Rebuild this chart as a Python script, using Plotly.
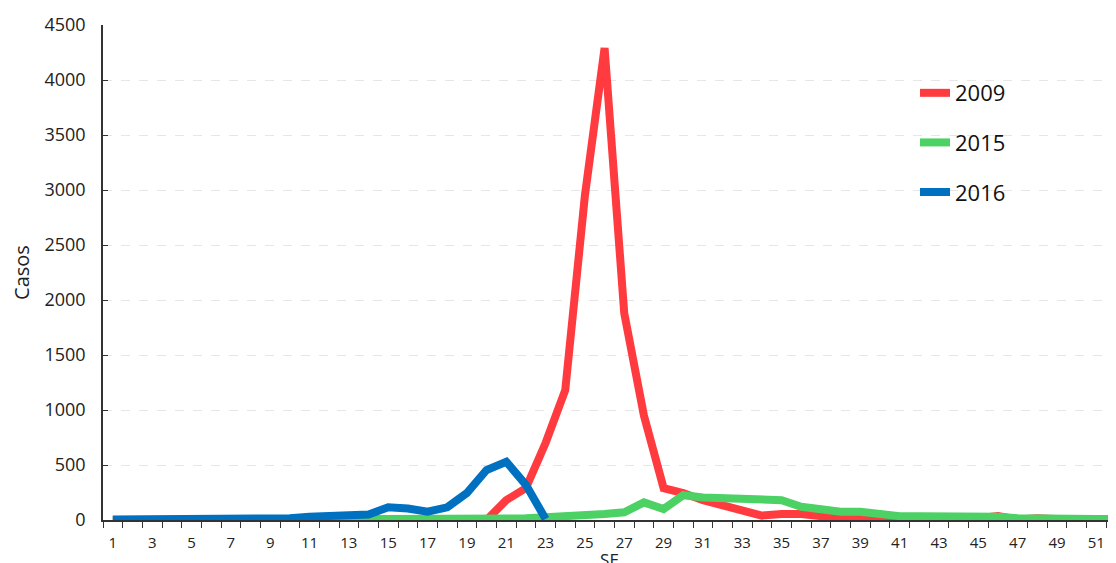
import plotly.graph_objects as go

weeks = list(range(1, 53))

cases_2009 = [0, 0, 0, 0, 0, 0, 0, 0, 0, 0,
              0, 0, 0, 0, 0, 0, 0, 0, 0, 0,
              180, 290, 700, 1180, 2950, 4290, 1880, 950, 290, 245,
              180, 135, 90, 40, 55, 55, 35, 25, 25, 15,
              0, 0, 0, 5, 15, 35, 5, 15, 0, 0,
              0, 0]

cases_2015 = [0, 0, 0, 0, 0, 0, 0, 0, 0, 0,
              3, 5, 5, 5, 5, 5, 5, 5, 5, 5,
              10, 15, 25, 30, 40, 55, 70, 160, 100, 225,
              205, 195, 190, 190, 180, 120, 100, 75, 75, 55,
              35, 35, 35, 25, 30, 30, 15, 10, 10, 10,
              10, 10]

weeks_2016 = list(range(1, 24))
cases_2016 = [5, 5, 5, 5, 5, 5, 5, 5, 5, 15,
              30, 40, 50, 50, 115, 105, 75, 115, 245, 455,
              530, 320, 10]

x_labels = [str(w) for w in range(1, 52, 2)]

fig = go.Figure()
series = [("2009", weeks, cases_2009, "#FF3B3F"),
          ("2015", weeks, cases_2015, "#4CD164"),
          ("2016", weeks_2016, cases_2016, "#0070C0")]
for name, xs, ys, color in series:
    fig.add_trace(go.Scatter(x=xs, y=ys, mode="lines", name=name, legendgroup=name,
                             line=dict(color=color, width=8)))

fig.update_layout(
    width=1116, height=563,
    margin=dict(l=95, r=8, t=17, b=51),
    plot_bgcolor="white", paper_bgcolor="white",
    font=dict(family="Open Sans", color="#222"),
    legend=dict(x=0.8016, y=0.905, xanchor="left", yanchor="top",
                font=dict(size=22, color="#111"), traceorder="grouped",
                tracegroupgap=18, itemwidth=30, bgcolor="rgba(0,0,0,0)"),
    xaxis=dict(range=[0.5, 52.0], tickmode="array", automargin=False,
               tickvals=list(range(1, 52, 2)), ticktext=x_labels,
               ticks="", showgrid=False, zeroline=False, ticklabelstandoff=8,
               showline=True, linecolor="#333", linewidth=1.5,
               tickfont=dict(size=15, color="#222"),
               minor=dict(tickmode="array", tickvals=[w + 0.5 for w in range(0, 52)],
                          ticks="outside", ticklen=6, tickcolor="#333", showgrid=False),
               title=dict(text="SE", font=dict(size=17), standoff=0)),
    yaxis=dict(range=[0, 4500], dtick=500, ticks="inside", ticklen=5, tickcolor="#333",
               showline=True, linecolor="#333", linewidth=1.5, zeroline=False,
               automargin=False, ticklabelstandoff=12,
               showgrid=True, gridcolor="#e6e6e6", griddash="dash",
               tickfont=dict(size=18, color="#222"),
               title=dict(text="Casos", font=dict(size=20), standoff=14)),
)

fig.write_html("out.html")
